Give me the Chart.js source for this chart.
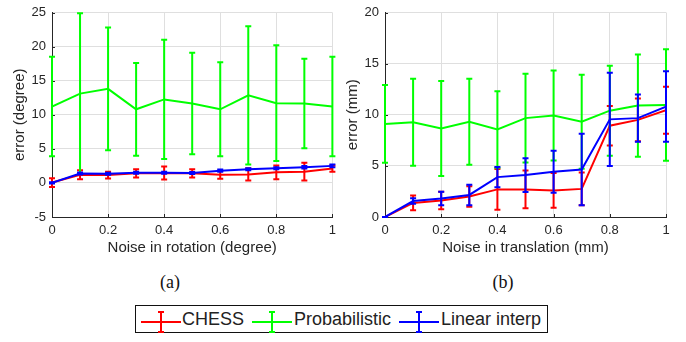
<!DOCTYPE html>
<html>
<head>
<meta charset="utf-8">
<script src="https://cdn.jsdelivr.net/npm/chart.js@4/dist/chart.umd.min.js"></script>
<style>
  body { margin: 0; background: #fff; width: 686px; height: 342px; overflow: hidden; position: relative; }
  canvas { position: absolute; top: 0; }
  #cRot { left: 0; }
  #cTrans { left: 343px; }
  .sub { position: absolute; font-family: "Liberation Serif", serif; font-size: 18px; color: #111; transform: translate(-50%, -50%); }
  #legend { position: absolute; left: 135px; top: 305px; width: 411px; height: 26px; border: 1px solid #111; background: #fff; font-family: "Liberation Sans", Arial, sans-serif; font-size: 18px; color: #222; }
  #legend svg, #legend span { position: absolute; }
  #legend span { top: 0; line-height: 27px; }
</style>
</head>
<body>
<canvas id="cRot" width="343" height="262"></canvas>
<canvas id="cTrans" width="343" height="262"></canvas>
<div class="sub" style="left:170px;top:282px">(a)</div>
<div class="sub" style="left:503px;top:282px">(b)</div>
<div id="legend">
  <svg style="left:5px;top:3px" width="40" height="24"><path d="M0 13H40M20 3V23M17 3H23M17 23H23" stroke="#ff0000" stroke-width="2" fill="none"/></svg>
  <span style="left:46px">CHESS</span>
  <svg style="left:116px;top:3px" width="40" height="24"><path d="M0 13H40M20 3V23M17 3H23M17 23H23" stroke="#00ff00" stroke-width="2" fill="none"/></svg>
  <span style="left:158px">Probabilistic</span>
  <svg style="left:263px;top:3px" width="40" height="24"><path d="M0 13H40M20 3V23M17 3H23M17 23H23" stroke="#0000ff" stroke-width="2" fill="none"/></svg>
  <span style="left:305px">Linear interp</span>
</div>
<script>
// noise levels
const noise = [0, 0.1, 0.2, 0.3, 0.4, 0.5, 0.6, 0.7, 0.8, 0.9, 1];

// (a) rotation noise, error in degree
const chessRot = [0.05, 1.2, 1.15, 1.4, 1.45, 1.4, 1.2, 1.25, 1.55, 1.65, 2.1];
const chessRotErr = [0.65, 0.65, 0.5, 0.6, 0.95, 0.6, 0.6, 0.9, 1.0, 1.3, 0.45];
const probRot = [11.2, 13.1, 13.8, 10.8, 12.25, 11.65, 10.8, 12.85, 11.7, 11.65, 11.2];
const probRotErr = [7.3, 11.8, 9.0, 6.8, 8.75, 7.45, 6.9, 10.15, 8.5, 6.55, 7.3];
const linRot = [0, 1.37, 1.35, 1.5, 1.5, 1.45, 1.8, 2.0, 2.15, 2.3, 2.5];
const linRotErr = [0.1, 0.15, 0.15, 0.15, 0.15, 0.15, 0.15, 0.15, 0.15, 0.2, 0.2];

// (b) translation noise, error in mm
const chessTrans = [0, 1.38, 1.62, 2.0, 2.7, 2.7, 2.6, 2.75, 8.93, 9.5, 10.45];
const chessTransErr = [0, 0.72, 0.86, 1.0, 2.0, 1.85, 1.7, 1.6, 1.93, 2.1, 2.3];
const probTrans = [9.1, 9.26, 8.65, 9.32, 8.56, 9.67, 9.93, 9.32, 10.4, 10.9, 10.95];
const probTransErr = [3.8, 4.25, 4.65, 4.2, 3.75, 4.35, 4.4, 4.6, 4.4, 5.0, 5.45];
const linTrans = [0, 1.56, 1.81, 2.16, 3.9, 4.1, 4.42, 4.65, 9.55, 9.67, 10.8];
const linTransErr = [0, 0.27, 0.67, 1.0, 1.0, 1.65, 2.05, 3.5, 4.55, 2.3, 3.45];

const xTicks = [0, 0.2, 0.4, 0.6, 0.8, 1];

const axisColor = '#262626';
const gridColor = '#dfdfdf';
const font = "'Liberation Sans', Arial, sans-serif";

// vertical error bars with caps, drawn right after each line
const errorBars = {
  id: 'errorBars',
  afterDatasetDraw(chart, args) {
    const ds = chart.data.datasets[args.index];
    if (!ds.errors) return;
    const sx = chart.scales.x, sy = chart.scales.y;
    const c = chart.ctx;
    c.save();
    c.strokeStyle = ds.borderColor;
    c.lineWidth = 2;
    ds.data.forEach((p, i) => {
      const e = ds.errors[i];
      const px = sx.getPixelForValue(p.x);
      const top = sy.getPixelForValue(p.y + e);
      const bot = sy.getPixelForValue(p.y - e);
      c.beginPath();
      c.moveTo(px, top); c.lineTo(px, bot);
      c.moveTo(px - 3, top); c.lineTo(px + 3, top);
      c.moveTo(px - 3, bot); c.lineTo(px + 3, bot);
      c.stroke();
    });
    c.restore();
  }
};

// matlab style ticks pointing into the plot
const innerTicks = {
  id: 'innerTicks',
  beforeDatasetsDraw(chart) {
    const c = chart.ctx, a = chart.chartArea;
    const sx = chart.scales.x, sy = chart.scales.y;
    c.save();
    c.strokeStyle = axisColor;
    c.lineWidth = 1;
    c.beginPath();
    sx.ticks.forEach(t => {
      const px = Math.round(sx.getPixelForValue(t.value)) + 0.5;
      c.moveTo(px, a.bottom); c.lineTo(px, a.bottom - 3);
    });
    sy.ticks.forEach(t => {
      const py = Math.round(sy.getPixelForValue(t.value)) + 0.5;
      c.moveTo(a.left, py); c.lineTo(a.left + 3, py);
    });
    c.stroke();
    c.restore();
  }
};

function pts(ys) {
  return ys.map((v, i) => ({ x: noise[i], y: v }));
}

function makeChart(id, series, yMin, yMax, xTitle, yTitle, yWidth, yTitlePad, padRight) {
  const colors = ['#ff0000', '#00ff00', '#0000ff'];
  const order = [2, 1, 0];
  return new Chart(document.getElementById(id), {
    type: 'line',
    data: {
      datasets: series.map((s, k) => ({
        data: pts(s[0]),
        errors: s[1],
        borderColor: colors[k],
        borderWidth: 2,
        pointRadius: 0,
        tension: 0,
        order: order[k]
      }))
    },
    options: {
      responsive: false,
      animation: false,
      events: [],
      layout: { padding: { top: 6.5, right: padRight, left: 0, bottom: 0 } },
      plugins: { legend: { display: false }, tooltip: { enabled: false } },
      scales: {
        x: {
          type: 'linear', min: 0, max: 1,
          afterFit(scale) { scale.height = 45; },
          afterBuildTicks(scale) { scale.ticks = xTicks.map(v => ({ value: v })); },
          grid: { color: gridColor, drawTicks: false },
          border: { color: axisColor, width: 1 },
          ticks: { color: axisColor, padding: 7, maxRotation: 0, autoSkip: false,
            font: { family: font, size: 13, lineHeight: 1 },
            callback: v => String(v) },
          title: { display: true, text: xTitle, color: axisColor,
            font: { family: font, size: 15 }, padding: { top: 0, bottom: 5 } }
        },
        y: {
          min: yMin, max: yMax,
          afterFit(scale) { scale.width = yWidth; },
          grid: { color: gridColor, drawTicks: false },
          border: { color: axisColor, width: 1 },
          ticks: { color: axisColor, padding: 6, stepSize: 5,
            font: { family: font, size: 13, lineHeight: 1 } },
          title: { display: true, text: yTitle, color: axisColor,
            font: { family: font, size: 15 }, padding: { top: yTitlePad, bottom: 0 } }
        }
      }
    },
    plugins: [innerTicks, errorBars]
  });
}

makeChart('cRot',
  [[chessRot, chessRotErr], [probRot, probRotErr], [linRot, linRotErr]],
  -5, 25, 'Noise in rotation (degree)', 'error (degree)', 52, 11, 9.5);

makeChart('cTrans',
  [[chessTrans, chessTransErr], [probTrans, probTransErr], [linTrans, linTransErr]],
  0, 20, 'Noise in translation (mm)', 'error (mm)', 42, 0.5, 20);
</script>
</body>
</html>
